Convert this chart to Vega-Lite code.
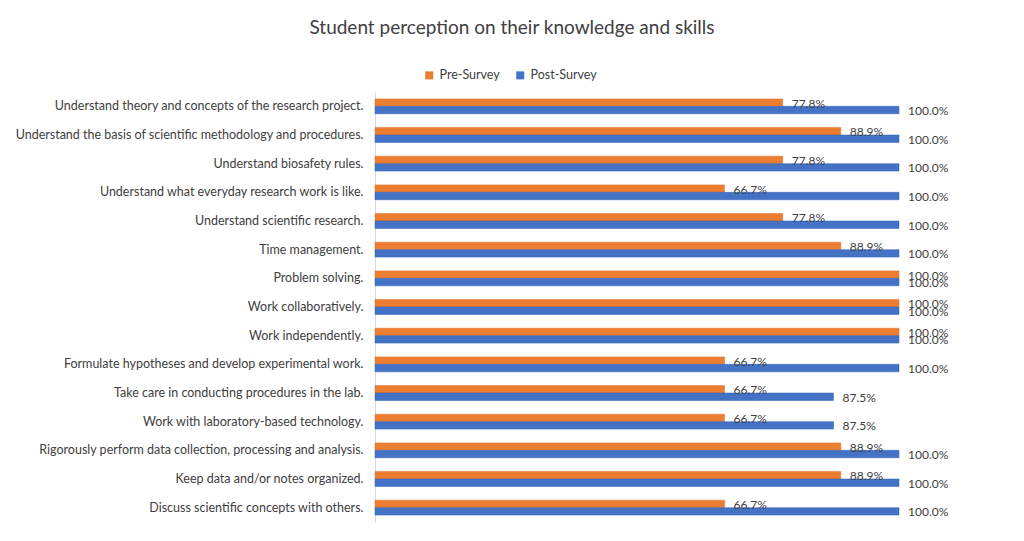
{
  "$schema": "https://vega.github.io/schema/vega-lite/v6.json",
  "autosize": {"type": "none"},
  "width": 524,
  "height": 430,
  "padding": {"left": 375, "top": 92, "right": 125, "bottom": 19},
  "background": "white",
  "title": {
    "text": "Student perception on their knowledge and skills",
    "font": "Lato",
    "fontSize": 19,
    "fontWeight": "normal",
    "color": "#404040",
    "anchor": "middle",
    "frame": "group",
    "dx": -125,
    "offset": 31
  },
  "data": {
    "values": [
      {"item": "Understand theory and concepts of the research project.", "series": "Pre-Survey", "value": 0.778},
      {"item": "Understand theory and concepts of the research project.", "series": "Post-Survey", "value": 1.0},
      {"item": "Understand the basis of scientific methodology and procedures.", "series": "Pre-Survey", "value": 0.889},
      {"item": "Understand the basis of scientific methodology and procedures.", "series": "Post-Survey", "value": 1.0},
      {"item": "Understand biosafety rules.", "series": "Pre-Survey", "value": 0.778},
      {"item": "Understand biosafety rules.", "series": "Post-Survey", "value": 1.0},
      {"item": "Understand what everyday research work is like.", "series": "Pre-Survey", "value": 0.667},
      {"item": "Understand what everyday research work is like.", "series": "Post-Survey", "value": 1.0},
      {"item": "Understand scientific research.", "series": "Pre-Survey", "value": 0.778},
      {"item": "Understand scientific research.", "series": "Post-Survey", "value": 1.0},
      {"item": "Time management.", "series": "Pre-Survey", "value": 0.889},
      {"item": "Time management.", "series": "Post-Survey", "value": 1.0},
      {"item": "Problem solving.", "series": "Pre-Survey", "value": 1.0},
      {"item": "Problem solving.", "series": "Post-Survey", "value": 1.0},
      {"item": "Work collaboratively.", "series": "Pre-Survey", "value": 1.0},
      {"item": "Work collaboratively.", "series": "Post-Survey", "value": 1.0},
      {"item": "Work independently.", "series": "Pre-Survey", "value": 1.0},
      {"item": "Work independently.", "series": "Post-Survey", "value": 1.0},
      {"item": "Formulate hypotheses and develop experimental work.", "series": "Pre-Survey", "value": 0.667},
      {"item": "Formulate hypotheses and develop experimental work.", "series": "Post-Survey", "value": 1.0},
      {"item": "Take care in conducting procedures in the lab.", "series": "Pre-Survey", "value": 0.667},
      {"item": "Take care in conducting procedures in the lab.", "series": "Post-Survey", "value": 0.875},
      {"item": "Work with laboratory-based technology.", "series": "Pre-Survey", "value": 0.667},
      {"item": "Work with laboratory-based technology.", "series": "Post-Survey", "value": 0.875},
      {"item": "Rigorously perform data collection, processing and analysis.", "series": "Pre-Survey", "value": 0.889},
      {"item": "Rigorously perform data collection, processing and analysis.", "series": "Post-Survey", "value": 1.0},
      {"item": "Keep data and/or notes organized.", "series": "Pre-Survey", "value": 0.889},
      {"item": "Keep data and/or notes organized.", "series": "Post-Survey", "value": 1.0},
      {"item": "Discuss scientific concepts with others.", "series": "Pre-Survey", "value": 0.667},
      {"item": "Discuss scientific concepts with others.", "series": "Post-Survey", "value": 1.0}
    ]
  },
  "encoding": {
    "y": {
      "field": "item",
      "type": "nominal",
      "sort": null,
      "title": null,
      "scale": {"paddingInner": 0.48, "paddingOuter": 0.24},
      "axis": {
        "domain": true,
        "domainColor": "#d9d9d9",
        "ticks": false,
        "grid": false,
        "labelPadding": 12,
        "labelFont": "Lato",
        "labelFontSize": 12.5,
        "labelColor": "#404040",
        "labelLimit": 400
      }
    },
    "yOffset": {
      "field": "series",
      "type": "nominal",
      "sort": ["Pre-Survey", "Post-Survey"],
      "scale": {"paddingInner": 0, "paddingOuter": 0}
    },
    "x": {
      "field": "value",
      "type": "quantitative",
      "scale": {"domain": [0, 1], "nice": false},
      "axis": null
    }
  },
  "layer": [
    {
      "mark": {"type": "bar", "strokeWidth": 0.5},
      "encoding": {
        "color": {
          "field": "series",
          "type": "nominal",
          "sort": ["Pre-Survey", "Post-Survey"],
          "scale": {"domain": ["Pre-Survey", "Post-Survey"], "range": ["#ED7D31", "#4472C4"]},
          "legend": {
            "title": null,
            "orient": "none",
            "direction": "horizontal",
            "legendX": 48,
            "legendY": -23,
            "symbolType": "square",
            "symbolSize": 64,
            "symbolStrokeWidth": 0,
            "labelFont": "Lato",
            "labelFontSize": 12.5,
            "labelColor": "#404040",
            "columnPadding": 14,
            "labelOffset": 4
          }
        },
        "stroke": {
          "field": "series",
          "type": "nominal",
          "scale": {"domain": ["Pre-Survey", "Post-Survey"], "range": ["#E0702A", "#2F62BE"]},
          "legend": null
        }
      }
    },
    {
      "mark": {"type": "text", "align": "left", "baseline": "middle", "dx": 9, "dy": 1, "font": "Lato", "fontSize": 12, "color": "#404040"},
      "encoding": {
        "text": {"field": "value", "type": "quantitative", "format": ".1%"}
      }
    }
  ],
  "config": {"view": {"stroke": null}}
}
